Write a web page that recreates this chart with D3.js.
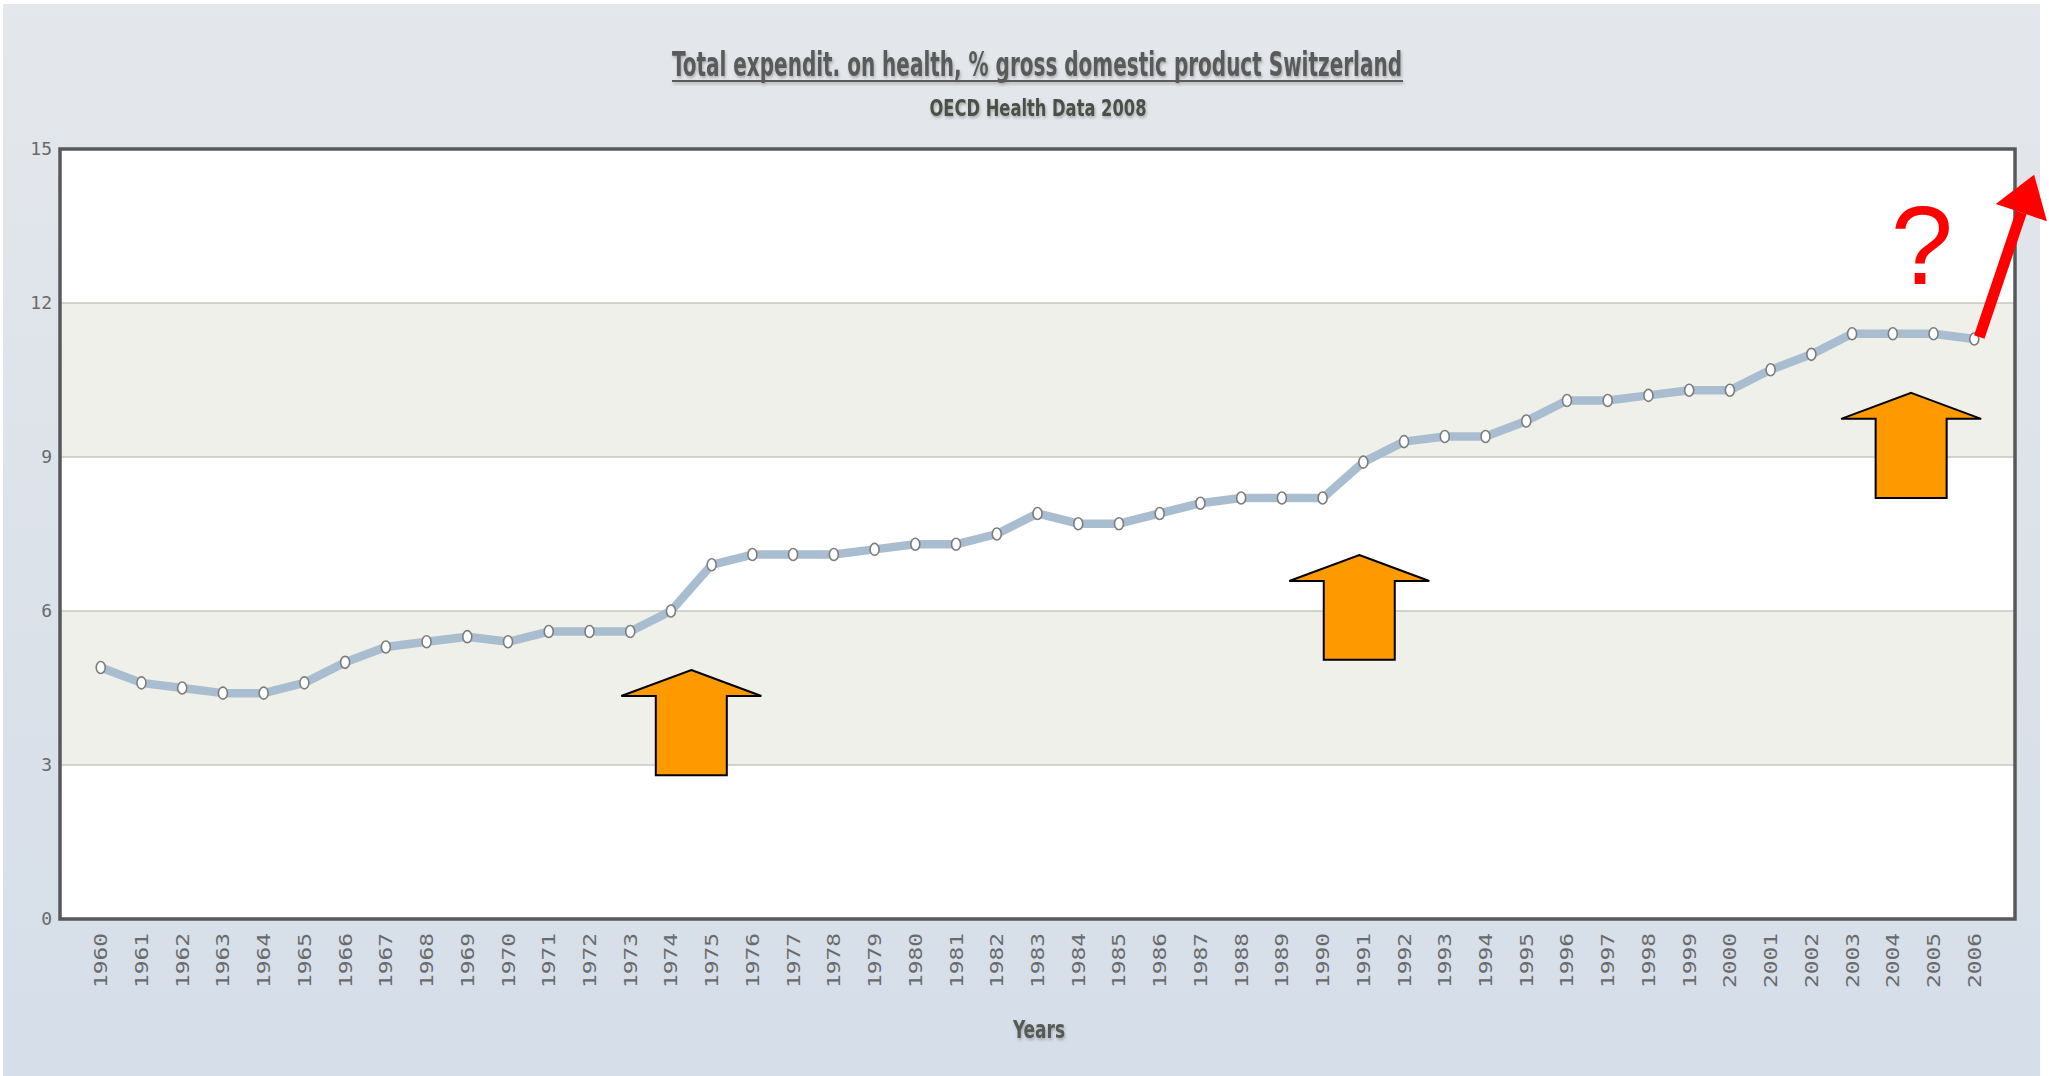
<!DOCTYPE html>
<html>
<head>
<meta charset="utf-8">
<script src="https://cdn.jsdelivr.net/npm/d3@7"></script>
<style>
  html, body { margin: 0; padding: 0; background: #ffffff; }
  svg { display: block; }
</style>
</head>
<body>
<svg id="chart" width="2049" height="1076"></svg>
<script>
// Total health expenditure, % of GDP, Switzerland (OECD Health Data 2008)
const years = d3.range(1960, 2007).map(String);
const values = [
  4.9, 4.6, 4.5, 4.4, 4.4, 4.6, 5.0, 5.3, 5.4, 5.5,
  5.4, 5.6, 5.6, 5.6, 6.0, 6.9, 7.1, 7.1, 7.1, 7.2,
  7.3, 7.3, 7.5, 7.9, 7.7, 7.7, 7.9, 8.1, 8.2, 8.2,
  8.2, 8.9, 9.3, 9.4, 9.4, 9.7, 10.1, 10.1, 10.2, 10.3,
  10.3, 10.7, 11.0, 11.4, 11.4, 11.4, 11.3
];
const yTicks = [0, 3, 6, 9, 12, 15];

// Orange "rise" arrows: centre year, tip value, base value
const riseYears = [1974.5, 1990.9, 2004.45];
const riseTop = [4.85, 7.09, 10.25];
const riseBottom = [2.8, 5.05, 8.2];

// Red trend arrow continuing past the last year
const trendTipYear = 2007.47;
const trendTipValue = 14.5;

const titleText = "Total expendit. on health, % gross domestic product Switzerland";
const subtitleText = "OECD Health Data 2008";
const xTitle = "Years";

const W = 2049, H = 1076;
const plot = { left: 60, right: 2015, top: 149, bottom: 919 };

const svg = d3.select("#chart");
const defs = svg.append("defs");

const grad = defs.append("linearGradient").attr("id", "bg").attr("x1", 0).attr("y1", 0).attr("x2", 0).attr("y2", 1);
grad.append("stop").attr("offset", "0%").attr("stop-color", "#e4e7eb");
grad.append("stop").attr("offset", "100%").attr("stop-color", "#d5dee9");

const shadow = defs.append("filter").attr("id", "txtshadow")
  .attr("filterUnits", "userSpaceOnUse")
  .attr("x", 0).attr("y", 0).attr("width", W).attr("height", H);
shadow.append("feDropShadow").attr("dx", 1).attr("dy", 2).attr("stdDeviation", 1.6)
  .attr("flood-color", "#7a7a7a").attr("flood-opacity", 0.55);

// Panel background
svg.append("rect").attr("x", 3).attr("y", 4).attr("width", 2037).attr("height", H - 4).attr("fill", "url(#bg)");

const x = d3.scalePoint().domain(years).range([plot.left, plot.right]).padding(1);
const y = d3.scaleLinear().domain([0, 15]).range([plot.bottom, plot.top]);
const xYear = yr => x("1960") + (yr - 1960) * x.step();

// Plot area with alternating bands
const bands = d3.pairs(yTicks);
svg.append("g").selectAll("rect").data(bands).join("rect")
  .attr("x", plot.left).attr("width", plot.right - plot.left)
  .attr("y", d => y(d[1])).attr("height", d => y(d[0]) - y(d[1]))
  .attr("fill", (d, i) => i % 2 === 1 ? "#eff0e9" : "#ffffff");

// Horizontal grid lines
svg.append("g").selectAll("line").data(yTicks.slice(1, -1)).join("line")
  .attr("x1", plot.left).attr("x2", plot.right)
  .attr("y1", d => y(d)).attr("y2", d => y(d))
  .attr("stroke", "#c6c7bf").attr("stroke-width", 1.5);

// Y axis labels
const yAxis = d3.axisLeft(y).tickValues(yTicks).tickSize(0).tickPadding(8);
const gy = svg.append("g").attr("transform", `translate(${plot.left},0)`).call(yAxis);
gy.select(".domain").remove();
gy.selectAll("text")
  .attr("font-family", "'DejaVu Sans Mono', monospace")
  .attr("font-size", 18).attr("fill", "#6a6a6a");

// X axis labels, rotated
const xAxis = d3.axisBottom(x).tickSize(0).tickPadding(0);
const gx = svg.append("g").attr("transform", `translate(0,${plot.bottom})`).call(xAxis);
gx.select(".domain").remove();
gx.selectAll("text")
  .attr("font-family", "'DejaVu Sans Mono', monospace")
  .attr("font-size", 17).attr("fill", "#6a6a6a")
  .attr("text-anchor", "end")
  .attr("dy", null).attr("y", 0).attr("x", 0)
  .attr("textLength", 55).attr("lengthAdjust", "spacingAndGlyphs")
  .attr("transform", "translate(6,14) rotate(-90)");

// Data line
const line = d3.line().x((d, i) => x(years[i])).y(d => y(d));
svg.append("path").datum(values)
  .attr("d", line).attr("fill", "none")
  .attr("stroke", "#a8bdd0").attr("stroke-width", 8.5)
  .attr("stroke-linejoin", "round").attr("stroke-linecap", "round");

svg.append("g").selectAll("ellipse").data(values).join("ellipse")
  .attr("cx", (d, i) => x(years[i])).attr("cy", d => y(d))
  .attr("rx", 4.5).attr("ry", 6)
  .attr("fill", "#ffffff").attr("stroke", "#7d7d7d").attr("stroke-width", 1.6);

// Plot border
svg.append("rect")
  .attr("x", plot.left).attr("y", plot.top)
  .attr("width", plot.right - plot.left).attr("height", plot.bottom - plot.top)
  .attr("fill", "none").attr("stroke", "#585858").attr("stroke-width", 3.5);

// Titles
const titleG = svg.append("g").attr("filter", "url(#txtshadow)");
titleG.append("text").attr("x", 1037).attr("y", 76)
  .attr("text-anchor", "middle")
  .attr("font-family", "'Liberation Sans Narrow', 'DejaVu Sans Condensed', 'Roboto', sans-serif")
  .attr("font-weight", "bold").attr("font-size", 33).attr("fill", "#5a5a5a")
  .attr("textLength", 730).attr("lengthAdjust", "spacingAndGlyphs")
  .text(titleText);
titleG.append("rect").attr("x", 672).attr("y", 80).attr("width", 731).attr("height", 2)
  .attr("fill", "#5a5a5a");

svg.append("text").attr("x", 1038).attr("y", 116)
  .attr("text-anchor", "middle")
  .attr("font-family", "'Liberation Sans Narrow', 'DejaVu Sans Condensed', 'Roboto', sans-serif")
  .attr("font-weight", "bold").attr("font-size", 23).attr("fill", "#4b5046")
  .attr("textLength", 217).attr("lengthAdjust", "spacingAndGlyphs")
  .attr("filter", "url(#txtshadow)")
  .text(subtitleText);

svg.append("text").attr("x", 1039).attr("y", 1038)
  .attr("text-anchor", "middle")
  .attr("font-family", "'Liberation Sans Narrow', 'DejaVu Sans Condensed', 'Roboto', sans-serif")
  .attr("font-weight", "bold").attr("font-size", 24).attr("fill", "#555a55")
  .attr("textLength", 52).attr("lengthAdjust", "spacingAndGlyphs")
  .attr("filter", "url(#txtshadow)")
  .text(xTitle);

// Orange up-arrows
const headHalf = 70, shaftHalf = 35.5, headH = 26;
svg.append("g").selectAll("path").data(riseYears).join("path")
  .attr("d", (yr, i) => {
    const cx = xYear(yr), t = y(riseTop[i]), b = y(riseBottom[i]);
    return `M${cx},${t} L${cx + headHalf},${t + headH} L${cx + shaftHalf},${t + headH} L${cx + shaftHalf},${b} ` +
           `L${cx - shaftHalf},${b} L${cx - shaftHalf},${t + headH} L${cx - headHalf},${t + headH} Z`;
  })
  .attr("fill", "#ff9900").attr("stroke", "#000000").attr("stroke-width", 2).attr("stroke-linejoin", "miter");

// Red trend arrow from the last data point
const x0 = x(years[years.length - 1]) + 5, y0 = y(values[values.length - 1]) - 2;
const x1 = xYear(trendTipYear), y1 = y(trendTipValue);
const ang = Math.atan2(y1 - y0, x1 - x0);
const hl = 40, hw = 27;
const bx = x1 - hl * Math.cos(ang), by = y1 - hl * Math.sin(ang);
const px = -Math.sin(ang), py = Math.cos(ang);
svg.append("line").attr("x1", x0).attr("y1", y0).attr("x2", bx).attr("y2", by)
  .attr("stroke", "#ff0000").attr("stroke-width", 11);
svg.append("path")
  .attr("d", `M${x1},${y1} L${bx + px * hw},${by + py * hw} L${bx - px * hw},${by - py * hw} Z`)
  .attr("fill", "#ff0000");

svg.append("text").attr("x", 1922).attr("y", 284)
  .attr("text-anchor", "middle")
  .attr("font-family", "'Liberation Sans', Arial, sans-serif")
  .attr("font-size", 112).attr("fill", "#ff0000")
  .text("?");
</script>
</body>
</html>
